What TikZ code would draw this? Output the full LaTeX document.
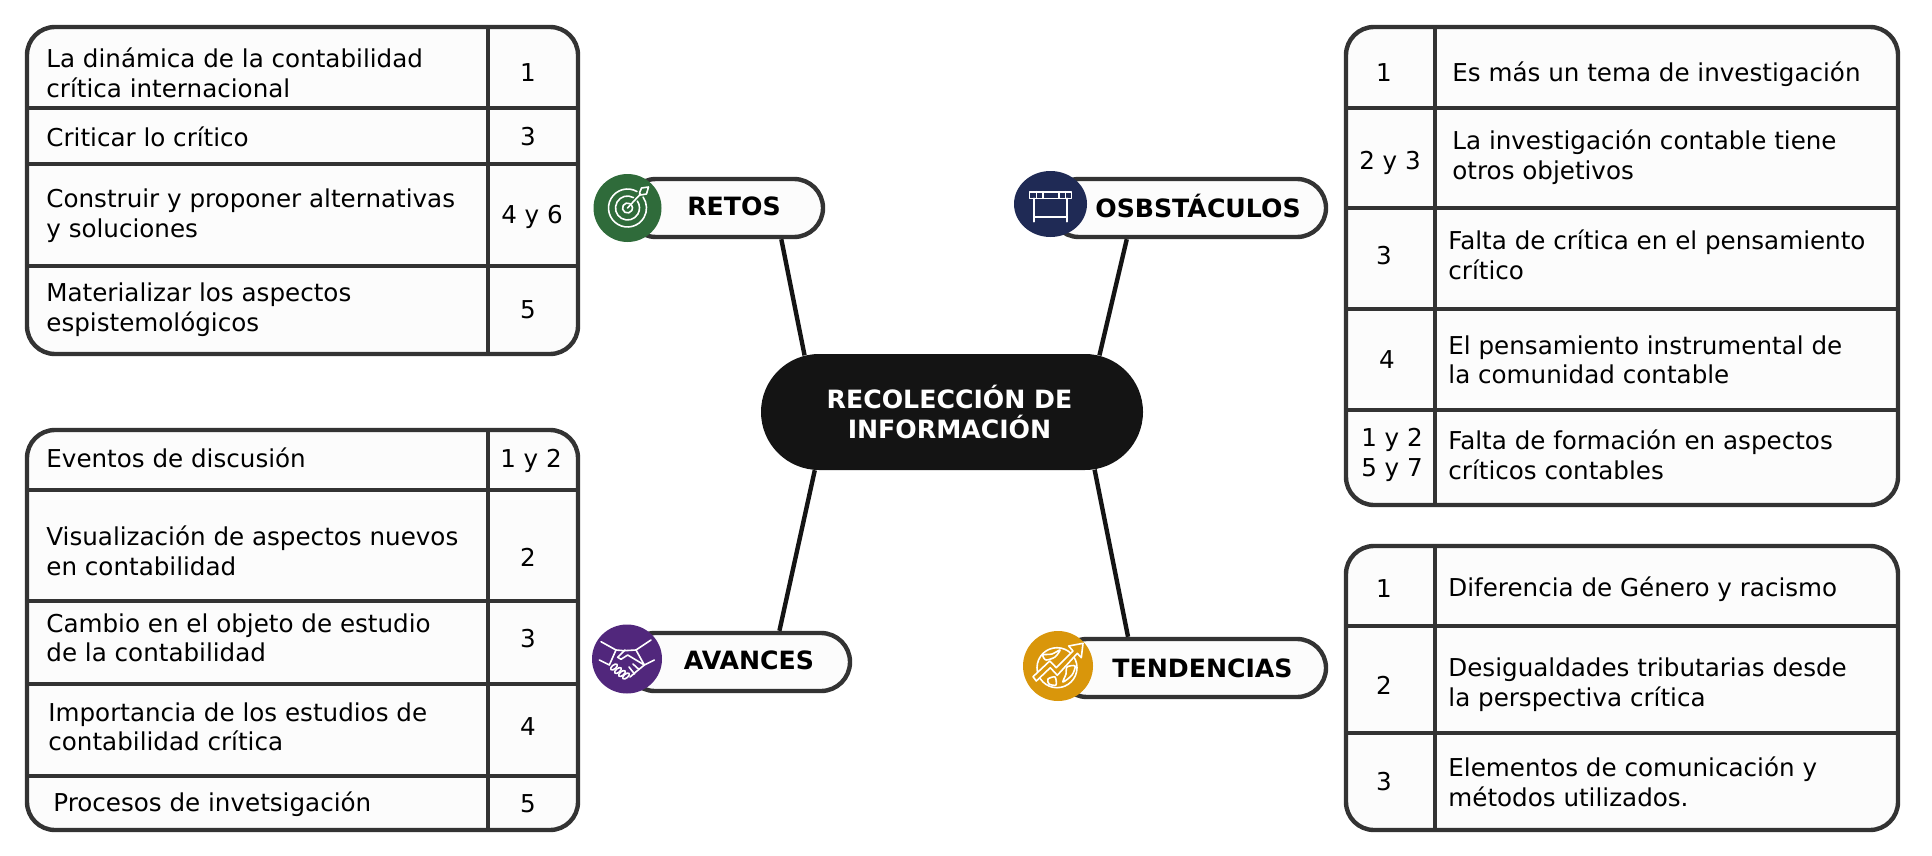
\documentclass[tikz,border=0pt]{standalone}
\usepackage{fontspec}
\setmainfont{DejaVu Sans}
\usetikzlibrary{calc,shapes.misc,shapes.geometric}

\definecolor{frameline}{HTML}{333333}
\definecolor{hubfill}{HTML}{141414}
\definecolor{retosgreen}{HTML}{2F6B3A}
\definecolor{obstblue}{HTML}{1F2A55}
\definecolor{avancpurple}{HTML}{51277C}
\definecolor{tendgold}{HTML}{D9960B}

\tikzset{
  cell/.style={anchor=west, align=left, inner sep=0pt, font=\fontsize{12.3}{14.8}\selectfont},
  num/.style={align=center, inner sep=0pt, font=\fontsize{12.3}{14.8}\selectfont},
  tablebox/.style={rectangle, rounded corners=14pt, draw=frameline, line width=2.2pt, fill=white!99!black, inner sep=0pt},
  rule/.style={draw=frameline, line width=2.2pt},
  pill/.style={rounded rectangle, draw=frameline, line width=2.2pt, fill=white!99!black, inner sep=0pt, minimum height=29pt},
  title/.style={inner sep=0pt, font=\fontsize{12.6}{14}\selectfont\bfseries},
  badge/.style={ellipse, inner sep=0pt},
  link/.style={draw=hubfill, line width=2.2pt},
  icon/.style={draw=white, line width=.8pt, line cap=round, line join=round}
}

\begin{document}
\begin{tikzpicture}[x=0.5pt, y=-0.5pt]
	\useasboundingbox (0, 0) rectangle (1932, 856);

	% centre
	\path (952, 412) node[rounded rectangle, fill=hubfill, minimum width=191pt, minimum height=58pt, inner sep=0pt] (hub) {};
	\path (949.5, 412) node[inner sep=0pt, text=white, align=center, font=\fontsize{12.6}{14.8}\selectfont\bfseries] (hubt) {RECOLECCIÓN DE\\INFORMACIÓN};

	% branches
	\path (725, 208) node[pill, minimum width=98pt] (retos) {}
		(1188, 208) node[pill, minimum width=138pt] (obst) {}
		(738, 662) node[pill, minimum width=112pt] (avanc) {}
		(1192, 668) node[pill, minimum width=134pt] (tend) {};

	\draw[link] (hub.159) -- (retos.-29);
	\draw[link] (hub.21) -- (obst.207);
	\draw[link] (hub.-157.6) -- (avanc.37);
	\draw[link] (hub.-22) -- (tend.154.5);

	\path (734, 206) node[title] (retost) {RETOS}
		(1198, 206) node[title] (obstt) {OSBSTÁCULOS}
		(749, 660) node[title] (avanct) {AVANCES}
		(1202.5, 668) node[title] (tendt) {TENDENCIAS};

	\path (627.5, 208) node[badge, fill=retosgreen, minimum width=34pt, minimum height=34pt] (retosb) {}
		(1050.5, 204) node[badge, fill=obstblue, minimum width=36.5pt, minimum height=33pt] (obstb) {}
		(627, 659) node[badge, fill=avancpurple, minimum width=35pt, minimum height=34.5pt] (avancb) {}
		(1058, 666) node[badge, fill=tendgold, minimum width=35pt, minimum height=35pt] (tendb) {};

	% target icon
	\begin{scope}[shift={(retosb)}, y=0.5pt]
		\draw[icon] (60:19) arc[start angle=60, end angle=395, radius=19];
		\draw[icon] (60:12) arc[start angle=60, end angle=395, radius=12];
		\draw[icon] (60:5) arc[start angle=60, end angle=395, radius=5];
		\draw[icon] (0, 0) -- (13, 14);
		\draw[icon] (12, 15) -- (14, 20) -- (21, 21) -- (19, 14) -- (13, 13) -- cycle;
	\end{scope}

	% table icon
	\begin{scope}[shift={(obstb)}, y=0.5pt]
		\draw[icon] (-21, 5.7) rectangle (21, 12.3);
		\draw[icon] (-14, 5.7) -- (-14, 12.3);
		\draw[icon] (-7.5, 5.7) -- (-7.5, 12.3);
		\draw[icon] (8.5, 5.7) -- (8.5, 12.3);
		\draw[icon] (15, 5.7) -- (15, 12.3);
		\draw[icon] (-16.7, 5.7) -- (-16.7, -17.7);
		\draw[icon] (16.7, 5.7) -- (16.7, -17.7);
		\draw[icon] (-16.7, -12.7) -- (16.7, -12.7);
	\end{scope}

	% handshake icon
	\begin{scope}[shift={(avancb)}, y=0.5pt]
		\draw[icon] (-26, 17.3) -- (-11, 9) -- (-17.7, -6) -- (-27.7, -1);
		\draw[icon] (24, 19) -- (9, 9) -- (17.3, -6) -- (27.3, -1);
		\draw[icon] (-11, 9) -- (-3, 8.3) -- (9, 9);
		\draw[icon] (-2, 9) -- (-9.3, 1.7) -- (-6, -.3) -- (.7, 4) -- (17.3, -6);
		\foreach \fx/\fy in {-13/-8, -9/-11.5, -5/-14.5, -1/-17}
			\draw[icon] (\fx, \fy) ellipse[x radius=4, y radius=2, rotate=40];
		\draw[icon] (17.3, -6) -- (10, -12) -- (3, -18);
		\draw[icon] (6, -5) -- (12, -10.5);
		\draw[icon] (2, -8) -- (7.5, -15);
	\end{scope}

	% globe icon
	\begin{scope}[shift={(tendb)}, y=0.5pt]
		\draw[icon] (-1, -1.7) circle (20);
		\draw[icon] plot[smooth cycle] coordinates {(-15, 11) (-6, 12) (2, 16) (-3, 9) (-12, 6)};
		\draw[icon] plot[smooth cycle] coordinates {(-10, -13) (-3, -11) (-2, -19) (-9, -18)};
		\draw[icon] plot[smooth cycle] coordinates {(9, -1) (17, 0) (14, -9) (5, -16) (8, -8)};
		\draw[icon, fill=tendgold] (-25, -10.7) -- (-8.3, 5) -- (-1.7, -1.7) -- (15, 15) -- (10.7, 20) -- (25, 22.7) -- (23.3, 8.3) -- (19.3, 12.7) -- (-.7, -9.3) -- (-7.7, -1.7) -- (-21.7, -15) -- cycle;
	\end{scope}

	% table top left
	\path (302.5, 190.5) node[tablebox, minimum width=275.5pt, minimum height=163.5pt] (tl) {};
	\draw[rule] (488, 27) -- (488, 354);
	\foreach \rowy in {108, 164, 266}
		\draw[rule] (tl.west |- 0, \rowy) -- (tl.east |- 0, \rowy);
	\path (46, 73) node[cell] (tla) {La dinámica de la contabilidad\\crítica internacional}
		(46, 137) node[cell] (tlb) {Criticar lo crítico}
		(46, 215.5) node[cell] (tlc) {Construir y proponer alternativas\\y soluciones}
		(46, 309.5) node[cell] (tld) {Materializar los aspectos\\espistemológicos}
		(528, 73) node[num] (tln) {1}
		(528, 137) node[num] (tlm) {3}
		(532, 217) node[num] (tlo) {4 y 6}
		(528, 310) node[num] (tlp) {5};

	% table bottom left
	\path (302.5, 630) node[tablebox, minimum width=275.5pt, minimum height=200pt] (bl) {};
	\draw[rule] (488, 430) -- (488, 830);
	\foreach \rowy in {490, 601, 684, 776}
		\draw[rule] (bl.west |- 0, \rowy) -- (bl.east |- 0, \rowy);
	\path (46, 458) node[cell] (bla) {Eventos de discusión}
		(46, 551) node[cell] (blb) {Visualización de aspectos nuevos\\en contabilidad}
		(46, 638) node[cell] (blc) {Cambio en el objeto de estudio\\de la contabilidad}
		(48, 727) node[cell] (bld) {Importancia de los estudios de\\contabilidad crítica}
		(53, 804) node[cell] (ble) {Procesos de invetsigación}
		(531, 461) node[num] (bln) {1 y 2}
		(528, 557) node[num] (blm) {2}
		(528, 639) node[num] (blo) {3}
		(528, 727) node[num] (blp) {4}
		(528, 804) node[num] (blq) {5};

	% table top right
	\path (1622, 266) node[tablebox, minimum width=276pt, minimum height=239pt] (tr) {};
	\draw[rule] (1435, 27) -- (1435, 505);
	\foreach \rowy in {108, 208, 309, 410}
		\draw[rule] (tr.west |- 0, \rowy) -- (tr.east |- 0, \rowy);
	\path (1452, 74) node[cell] (tra) {Es más un tema de investigación}
		(1452, 157.5) node[cell] (trb) {La investigación contable tiene\\otros objetivos}
		(1448, 255) node[cell] (trc) {Falta de crítica en el pensamiento\\crítico}
		(1448, 360) node[cell] (trd) {El pensamiento instrumental de\\la comunidad contable}
		(1448, 455) node[cell] (tre) {Falta de formación en aspectos\\críticos contables}
		(1384, 73) node[num] (trn) {1}
		(1390, 163) node[num] (trm) {2 y 3}
		(1384, 256) node[num] (tro) {3}
		(1387, 360) node[num] (trp) {4}
		(1392, 455) node[num] (trq) {1 y 2\\5 y 7};

	% table bottom right
	\path (1622, 688) node[tablebox, minimum width=276pt, minimum height=142pt] (br) {};
	\draw[rule] (1435, 546) -- (1435, 830);
	\foreach \rowy in {626, 733}
		\draw[rule] (br.west |- 0, \rowy) -- (br.east |- 0, \rowy);
	\path (1448, 589) node[cell] (bra) {Diferencia de Género y racismo}
		(1448, 685) node[cell] (brb) {Desigualdades tributarias desde\\la perspectiva crítica}
		(1448, 782) node[cell] (brc) {Elementos de comunicación y\\métodos utilizados.}
		(1384, 589) node[num] (brn) {1}
		(1384, 685) node[num] (brm) {2}
		(1384, 782) node[num] (bro) {3};
\end{tikzpicture}
\end{document}
